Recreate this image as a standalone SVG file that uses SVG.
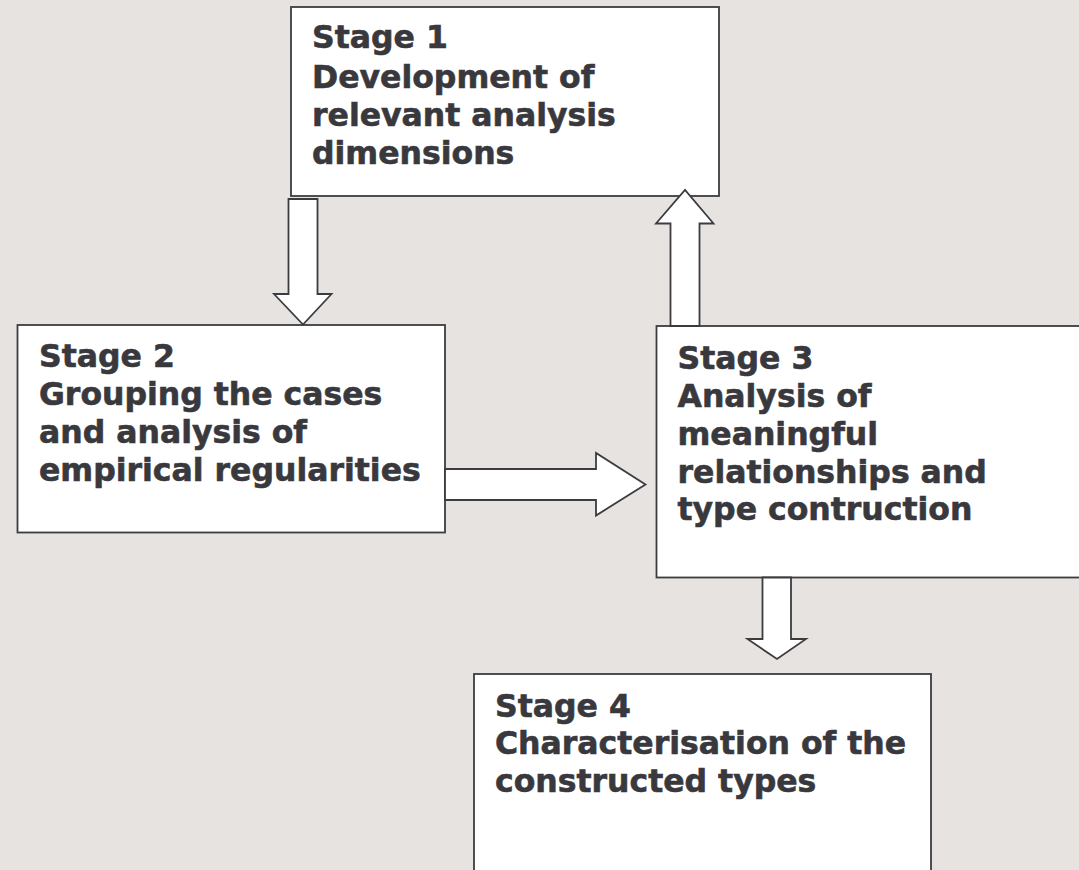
<svg xmlns="http://www.w3.org/2000/svg" width="1079" height="870" viewBox="0 0 1079 870">
<style>
.box{fill:#ffffff;stroke:#3c3c40;stroke-width:1.8}
.arr{fill:#ffffff;stroke:#3c3c40;stroke-width:1.8;stroke-linejoin:miter}
.t{font-family:"DejaVu Sans",Verdana,sans-serif;font-weight:bold;font-size:31.5px;fill:#38383d;stroke:#38383d;stroke-width:0.6}
</style>
<rect x="0" y="0" width="1079" height="870" fill="#e7e3e0"/>
<g id="stage1">
<rect class="box" x="291" y="7" width="428" height="189"/>
<text class="t" x="312" y="48">Stage 1</text>
<text class="t" x="312" y="87.5">Development of</text>
<text class="t" x="312" y="126">relevant analysis</text>
<text class="t" x="312" y="163.5">dimensions</text>
</g>
<g id="stage2">
<rect class="box" x="17.5" y="325" width="427.5" height="207.5"/>
<text class="t" x="39" y="366.5">Stage 2</text>
<text class="t" x="39" y="404.5">Grouping the cases</text>
<text class="t" x="39" y="443">and analysis of</text>
<text class="t" x="39" y="481">empirical regularities</text>
</g>
<g id="stage3">
<rect class="box" x="656.5" y="326" width="430" height="251.5"/>
<text class="t" x="677.5" y="368.5">Stage 3</text>
<text class="t" x="677.5" y="406.5">Analysis of</text>
<text class="t" x="677.5" y="444.5">meaningful</text>
<text class="t" x="677.5" y="482.5">relationships and</text>
<text class="t" x="677.5" y="520">type contruction</text>
</g>
<g id="stage4">
<rect class="box" x="474" y="674" width="457" height="210"/>
<text class="t" x="495" y="716.5">Stage 4</text>
<text class="t" x="495" y="754">Characterisation of the</text>
<text class="t" x="495" y="791.5">constructed types</text>
</g>
<g id="connectors">
<polygon class="arr" points="288.5,199 317.5,199 317.5,294 331.5,294 303,324.5 274,294 288.5,294"/>
<polygon class="arr" points="445,469 596,469 596,453 645.5,484.5 596,515.5 596,500 445,500"/>
<polygon class="arr" points="670.5,326 670.5,223.5 656,223.5 685,190 713.5,223.5 699.5,223.5 699.5,326"/>
<polygon class="arr" points="762.5,577.5 791,577.5 791,639 806,639 777,659 747.5,639 762.5,639"/>
</g>
</svg>
